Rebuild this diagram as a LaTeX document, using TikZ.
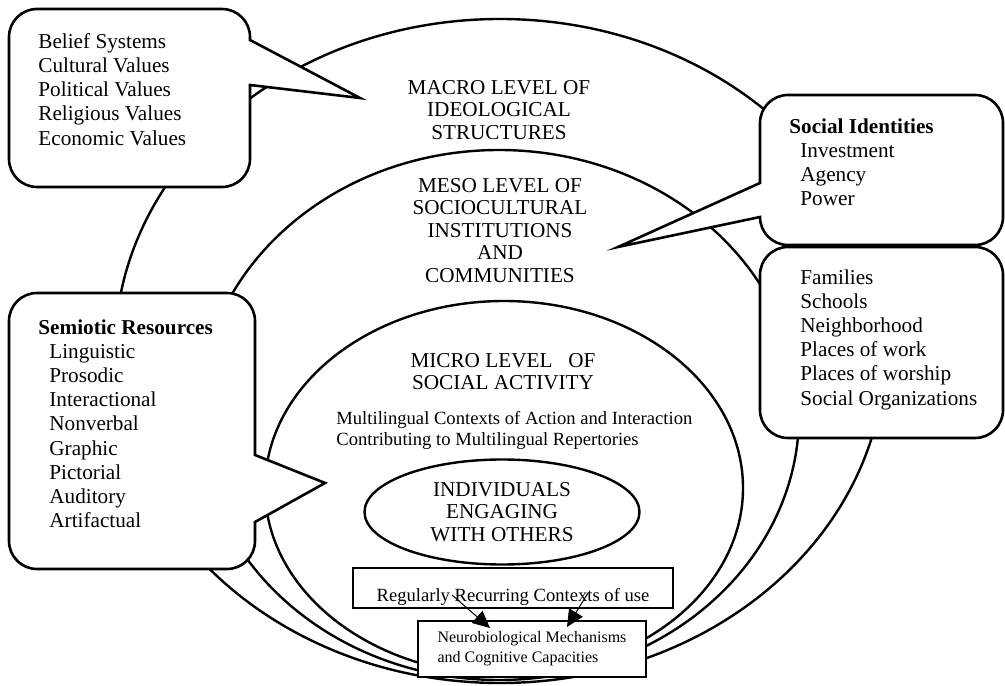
\documentclass[tikz,border=0pt]{standalone}
\usepackage{fontspec}
\setmainfont{Liberation Serif}
\usetikzlibrary{arrows.meta,shapes.geometric}

\begin{document}
\begin{tikzpicture}[x=0.5pt, y=0.5pt,
        ring/.style={line width=1.2pt},
        bubble/.style={line width=1.3pt, fill=white},
        level/.style={font=\fontsize{10.6}{11.2}\selectfont, align=center, inner sep=0pt},
        items/.style={font=\fontsize{10.6}{12.1}\selectfont, align=left, inner sep=0pt, anchor=north west},
        ctxbox/.style={draw, line width=0.9pt, fill=white, inner sep=0pt},
        flow/.style={-{Triangle[length=8.5pt, width=8pt]}, line width=0.5pt}]

        \useasboundingbox (0,0) rectangle (1005,685);

        \draw[ring] (500,334) ellipse [x radius=385, y radius=332];
        \draw[ring] (499,270) ellipse [x radius=300, y radius=265];
        \draw[ring] (504,197) ellipse [x radius=239, y radius=187];

        \draw[bubble] (37,676) -- (222,676) arc[start angle=90, end angle=0, radius=28]
            -- (250,645) -- (360,587) -- (250,600)
            -- (250,526) arc[start angle=0, end angle=-90, radius=28]
            -- (37,498) arc[start angle=270, end angle=180, radius=28]
            -- (9,648) arc[start angle=180, end angle=90, radius=28] -- cycle;
        \draw[bubble] (788,590) -- (975,590) arc[start angle=90, end angle=0, radius=28]
            -- (1003,468) arc[start angle=0, end angle=-90, radius=28]
            -- (788,440) arc[start angle=270, end angle=180, radius=28]
            -- (618,438) -- (760,502)
            -- (760,562) arc[start angle=180, end angle=90, radius=28] -- cycle;
        \draw[bubble, rounded corners=14pt] (760,247) rectangle (1003,438);
        \draw[bubble] (37,392) -- (227,392) arc[start angle=90, end angle=0, radius=28]
            -- (255,230) -- (325,202) -- (255,163)
            -- (255,144) arc[start angle=0, end angle=-90, radius=28]
            -- (37,116) arc[start angle=270, end angle=180, radius=28]
            -- (9,364) arc[start angle=180, end angle=90, radius=28] -- cycle;

        \node[items] (belief) at (38,652) {Belief Systems\\Cultural Values\\Political Values\\Religious Values\\Economic Values};
        \node[items] (social) at (789,567) {\textbf{Social Identities}\\\hspace*{5.5pt}Investment\\\hspace*{5.5pt}Agency\\\hspace*{5.5pt}Power};
        \node[items] (places) at (800,416) {Families\\Schools\\Neighborhood\\Places of work\\Places of worship\\Social Organizations};
        \node[items] (semiotic) at (38,366) {\textbf{Semiotic Resources}\\\hspace*{5.5pt}Linguistic\\\hspace*{5.5pt}Prosodic\\\hspace*{5.5pt}Interactional\\\hspace*{5.5pt}Nonverbal\\\hspace*{5.5pt}Graphic\\\hspace*{5.5pt}Pictorial\\\hspace*{5.5pt}Auditory\\\hspace*{5.5pt}Artifactual};

        \node[level, anchor=north] (macro) at (499,605) {MACRO LEVEL OF\\IDEOLOGICAL\\STRUCTURES};
        \node[level, anchor=north] (meso) at (500,507) {MESO LEVEL OF\\SOCIOCULTURAL\\INSTITUTIONS\\AND\\COMMUNITIES};
        \node[level, anchor=north] (micro) at (503,332) {MICRO LEVEL\ \ \ OF\\SOCIAL ACTIVITY};
        \node[font=\fontsize{9.3}{10.5}\selectfont, align=left, inner sep=0pt, anchor=north west] (multi) at (336,274) {Multilingual Contexts of Action and Interaction\\Contributing to Multilingual Repertories};

        \node[draw, ellipse, ring, fill=white, level, minimum width=137.5pt, minimum height=52.5pt] (indiv) at (502,173) {INDIVIDUALS\\ENGAGING\\WITH OTHERS};
        \node[ctxbox, minimum width=160pt, minimum height=20pt, text height=16pt, text depth=3pt, font=\fontsize{9.3}{10.5}\selectfont] (reg) at (513,97) {Regularly Recurring Contexts of use};
        \node[ctxbox, minimum width=114pt, minimum height=28pt, align=left, font=\fontsize{8}{10}\selectfont] (neuro) at (532,36) {Neurobiological Mechanisms\\and Cognitive Capacities};

        \draw[flow] ([shift={(-61,-7)}]reg.center) -- ([shift={(-42,21)}]neuro.center);
        \draw[flow] ([shift={(75,-5)}]reg.center) -- ([shift={(35,22)}]neuro.center);
    \end{tikzpicture}
\end{document}
